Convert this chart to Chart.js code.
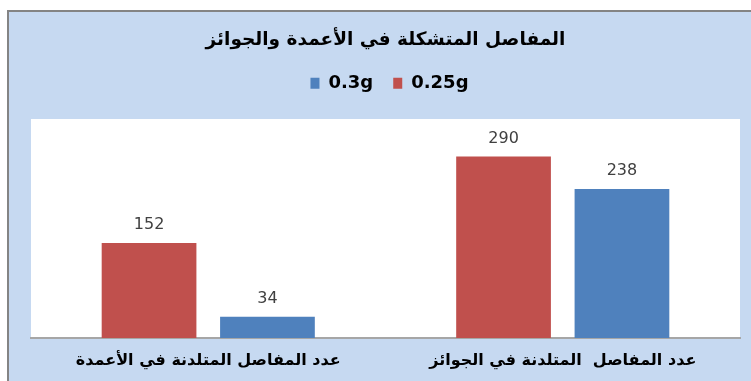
<!DOCTYPE html>
<html>
<head>
<meta charset="utf-8">
<script src="https://cdn.jsdelivr.net/npm/chart.js@4"></script>
<style>
  html, body { margin: 0; padding: 0; background: #ffffff; overflow: hidden; }
  canvas { display: block; }
</style>
</head>
<body>
<canvas id="chart" width="751" height="381"></canvas>
<script>
// Plastic hinges formed in columns and beams
const categories = [
  'عدد المفاصل المتلدنة في الأعمدة',
  'عدد المفاصل  المتلدنة في الجوائز'
];
const seriesNames = ['0.25g', '0.3g'];
const values025g = [152, 290];
const values03g = [34, 238];
const chartTitle = 'المفاصل المتشكلة في الأعمدة والجوائز';

const FONT = "'DejaVu Sans', 'Liberation Sans', sans-serif";
const PAGE_BG = '#c6d9f1';
const TICK_PAD = 13.4;

// Frame: white margin, light blue panel, grey top/left rule, white plot area
const framePlugin = {
  id: 'frame',
  beforeDraw(chart) {
    const { ctx, width, height, chartArea } = chart;
    ctx.save();
    ctx.fillStyle = '#ffffff';
    ctx.fillRect(0, 0, width, height);
    ctx.fillStyle = PAGE_BG;
    ctx.fillRect(9, 12, width - 9, height - 12);
    ctx.fillStyle = '#848484';
    ctx.fillRect(7, 10, width - 7, 2);
    ctx.fillRect(7, 10, 2, height - 10);
    ctx.fillStyle = '#ffffff';
    ctx.fillRect(chartArea.left, chartArea.top,
                 chartArea.right - chartArea.left, chartArea.bottom - chartArea.top);
    ctx.restore();
  }
};

// Extra room between the legend row and the plot area, and a small nudge right
const legendSpacing = {
  id: 'legendSpacing',
  beforeLayout(chart) {
    const lg = chart.legend;
    if (lg && !lg._spaced) {
      lg._spaced = true;
      const baseFit = lg.fit.bind(lg);
      lg.fit = function () { baseFit(); this.height += 16.8; };
      const baseDraw = lg.draw.bind(lg);
      lg.draw = function () {
        const ctx = this.ctx;
        ctx.save();
        ctx.translate(4, 0);
        baseDraw();
        ctx.restore();
      };
    }
  }
};

// Value labels above each bar
const valueLabels = {
  id: 'valueLabels',
  afterDatasetsDraw(chart) {
    const { ctx } = chart;
    ctx.save();
    ctx.font = '16px ' + FONT;
    ctx.fillStyle = '#404040';
    ctx.textAlign = 'center';
    ctx.textBaseline = 'middle';
    chart.data.datasets.forEach((ds, i) => {
      const meta = chart.getDatasetMeta(i);
      meta.data.forEach((bar, j) => {
        ctx.fillText(String(ds.data[j]), bar.x, bar.y - 18);
      });
    });
    ctx.restore();
  }
};

new Chart(document.getElementById('chart'), {
  type: 'bar',
  data: {
    labels: categories,
    datasets: [
      { label: seriesNames[0], data: values025g, backgroundColor: '#c0504d',
        barPercentage: 0.8, categoryPercentage: 0.668 },
      { label: seriesNames[1], data: values03g, backgroundColor: '#4f81bd',
        barPercentage: 0.8, categoryPercentage: 0.668 }
    ]
  },
  options: {
    responsive: false,
    animation: false,
    devicePixelRatio: 1,
    layout: { padding: { left: 31, right: 11, top: 12, bottom: 8.4 } },
    plugins: {
      title: {
        display: true,
        text: chartTitle,
        color: '#000000',
        font: { family: FONT, size: 18.5, weight: 'bold' },
        padding: { top: 17, bottom: 3 }
      },
      legend: {
        display: true,
        reverse: true,
        labels: {
          color: '#000000',
          font: { family: FONT, size: 18, weight: 'bold' },
          boxWidth: 9,
          boxHeight: 11,
          padding: 20
        }
      },
      tooltip: { enabled: false }
    },
    scales: {
      x: {
        grid: { display: false, drawTicks: false },
        border: { display: true, color: '#a6a6a6', width: 2 },
        ticks: {
          color: '#000000',
          font: { family: FONT, size: 16, weight: 'bold' },
          padding: TICK_PAD,
          maxRotation: 0
        },
        afterFit(scale) {
          scale.height = TICK_PAD + 19.2 + 2;
        }
      },
      y: {
        display: false,
        min: 0,
        max: 350
      }
    }
  },
  plugins: [framePlugin, legendSpacing, valueLabels]
});
</script>
</body>
</html>
